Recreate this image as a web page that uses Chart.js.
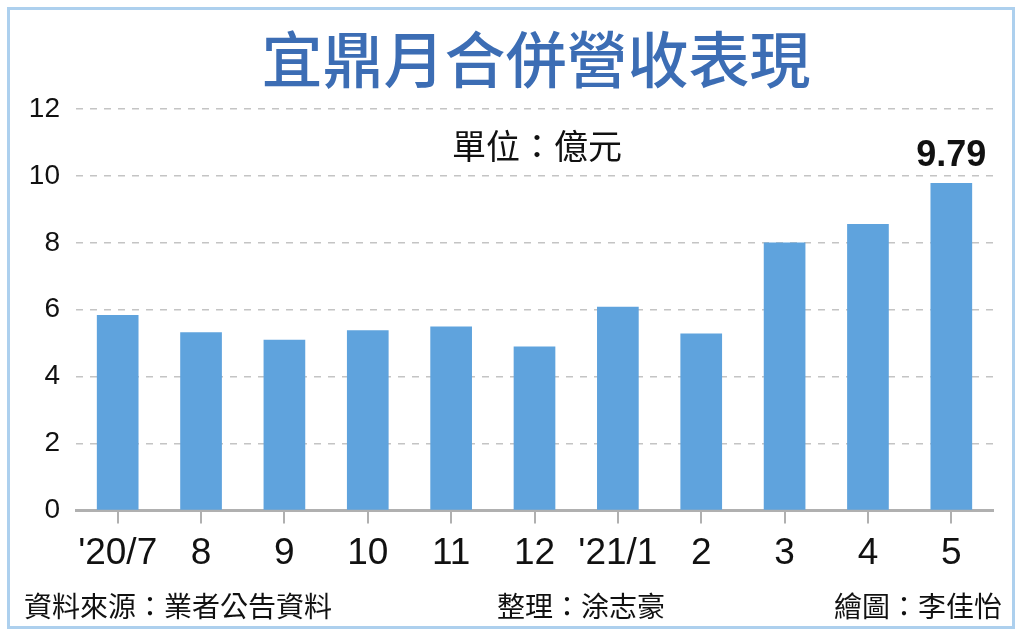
<!DOCTYPE html>
<html>
<head>
<meta charset="utf-8">
<script src="https://cdn.jsdelivr.net/npm/chart.js@4"></script>
<style>
  html, body { margin: 0; padding: 0; background: #fff; }
  #wrap { width: 1024px; height: 641px; }
</style>
</head>
<body>
<div id="wrap"><canvas id="revenueChart" width="1024" height="641"></canvas></div>
<script>
// monthly consolidated revenue, unit: 100 million NTD
const months = ["'20/7", '8', '9', '10', '11', '12', "'21/1", '2', '3', '4', '5'];
const revenue = [5.84, 5.33, 5.10, 5.39, 5.50, 4.90, 6.09, 5.29, 8.01, 8.56, 9.79];
const yTicks = [0, 2, 4, 6, 8, 10, 12];

const cjk = "'Noto Sans CJK TC', 'Noto Sans CJK SC', sans-serif";

const decorations = {
    id: 'decorations',
    beforeDraw(chart) {
        const ctx = chart.ctx;
        ctx.save();
        ctx.fillStyle = '#ffffff';
        ctx.fillRect(0, 0, chart.width, chart.height);
        ctx.restore();
    },
    afterDraw(chart) {
        const ctx = chart.ctx;
        ctx.save();

        // frame
        ctx.strokeStyle = '#add0ee';
        ctx.lineWidth = 3;
        ctx.strokeRect(8.5, 8.5, 1005, 619);

        // title
        ctx.fillStyle = '#3c6db4';
        ctx.font = '500 61px ' + cjk;
        ctx.textAlign = 'center';
        ctx.textBaseline = 'middle';
        ctx.fillText('宜鼎月合併營收表現', 536, 60);

        // unit
        ctx.fillStyle = '#111';
        ctx.font = '34px ' + cjk;
        ctx.fillText('單位：億元', 537, 146);

        // value label on the last bar
        const meta = chart.getDatasetMeta(0);
        const last = meta.data[meta.data.length - 1];
        ctx.font = "bold 36px 'Liberation Sans', Arial, sans-serif";
        ctx.textBaseline = 'alphabetic';
        ctx.fillText(revenue[revenue.length - 1].toFixed(2), last.x, last.y - 17);

        // footer
        ctx.font = '28px ' + cjk;
        ctx.textBaseline = 'middle';
        ctx.textAlign = 'left';
        ctx.fillText('資料來源：業者公告資料', 24, 606);
        ctx.fillText('整理：涂志豪', 497, 606);
        ctx.textAlign = 'right';
        ctx.fillText('繪圖：李佳怡', 1002, 606);

        ctx.restore();
    }
};

document.addEventListener('DOMContentLoaded', function () {
    const ctx = document.getElementById('revenueChart').getContext('2d');
    new Chart(ctx, {
        type: 'bar',
        data: {
            labels: months,
            datasets: [{
                data: revenue,
                backgroundColor: '#5fa3dd',
                borderWidth: 0,
                barPercentage: 0.5,
                categoryPercentage: 1
            }]
        },
        options: {
            responsive: false,
            animation: false,
            layout: { padding: { left: 0, right: 31, top: 109, bottom: 0 } },
            plugins: {
                legend: { display: false },
                tooltip: { enabled: false }
            },
            scales: {
                x: {
                    afterFit: function (scale) { scale.height = 130.5; },
                    grid: {
                        display: true,
                        offset: false,
                        drawOnChartArea: false,
                        drawTicks: true,
                        tickLength: 13,
                        color: '#b0b0b0',
                        lineWidth: 2
                    },
                    border: { display: true, color: '#b0b0b0', width: 3 },
                    ticks: {
                        color: '#111',
                        padding: 8,
                        maxRotation: 0,
                        minRotation: 0,
                        autoSkip: false,
                        font: { family: "'Liberation Sans Narrow', 'Liberation Sans', sans-serif", size: 37 }
                    }
                },
                y: {
                    min: 0,
                    max: 12,
                    afterFit: function (scale) { scale.width = 76; },
                    afterBuildTicks: function (scale) {
                        scale.ticks = yTicks.map(v => ({ value: v }));
                    },
                    grid: {
                        color: '#c4c4c4',
                        lineWidth: 1.5,
                        drawTicks: false
                    },
                    border: { display: false, dash: [7, 7] },
                    ticks: {
                        color: '#111',
                        padding: 16,
                        font: { family: "'Liberation Sans', Arial, sans-serif", size: 28 }
                    }
                }
            }
        },
        plugins: [decorations]
    });
});
</script>
</body>
</html>
